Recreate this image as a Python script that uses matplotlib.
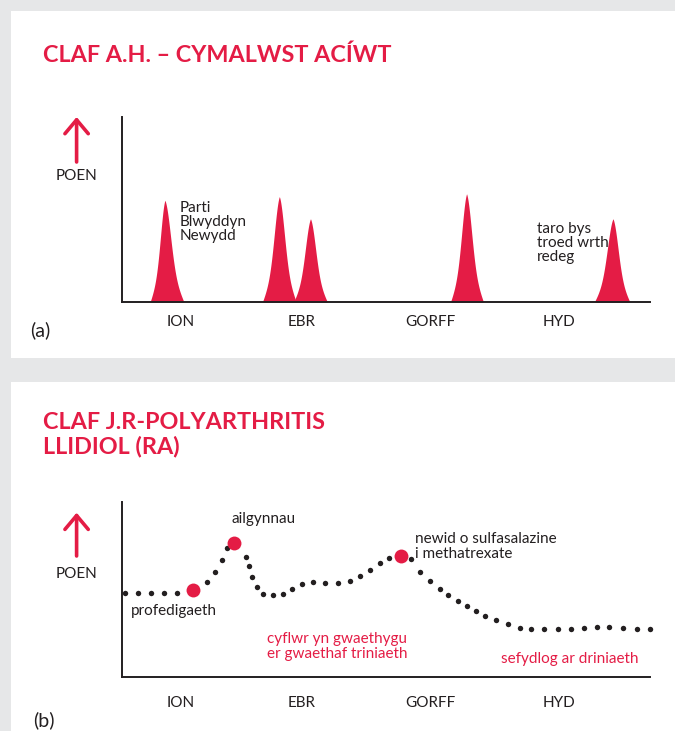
import numpy as np
import matplotlib
matplotlib.use('Agg')
import matplotlib.pyplot as plt
from matplotlib.patches import Rectangle, FancyArrowPatch

plt.rcParams['font.family'] = ['Lato', 'DejaVu Sans']

RED = '#e41c45'
INK = '#231f20'
GREY = '#e6e7e8'
W, H = 675, 731

# months along the time axis (x in months from the y axis)
month_labels = ['ION', 'EBR', 'GORFF', 'HYD']
month_pos = [1.40, 4.26, 7.33, 10.38]

# (a) acute gout flares: centre, height, base width left / right
flare_centre = [1.02, 3.74, 4.48, 8.19, 11.67]
flare_height = [5.5, 5.7, 4.5, 5.85, 4.5]
flare_left = [0.35, 0.40, 0.40, 0.38, 0.44]
flare_right = [0.45, 0.40, 0.40, 0.40, 0.40]

# (b) rheumatoid arthritis pain over the year
ra_x = [0.07, 0.38, 0.68, 0.99, 1.30, 2.02, 2.21, 2.37, 2.49, 2.94,
        3.01, 3.10, 3.21, 3.36, 3.59, 3.82, 4.04, 4.28, 4.55, 4.83,
        5.13, 5.41, 5.65, 5.89, 6.13, 6.34, 6.86, 7.08, 7.31, 7.55,
        7.75, 7.98, 8.19, 8.41, 8.64, 8.88, 9.17, 9.45, 9.73, 10.04,
        10.37, 10.68, 10.98, 11.28, 11.58, 11.90, 12.23, 12.54]
ra_y = [4.78, 4.78, 4.78, 4.78, 4.78, 5.45, 6.02, 6.69, 7.35, 6.84,
        6.34, 5.73, 5.16, 4.76, 4.67, 4.76, 5.05, 5.31, 5.43, 5.39,
        5.37, 5.47, 5.77, 6.11, 6.51, 6.78, 6.73, 6.02, 5.50, 5.01,
        4.67, 4.36, 4.06, 3.75, 3.49, 3.26, 3.01, 2.82, 2.73, 2.73,
        2.74, 2.76, 2.78, 2.84, 2.87, 2.82, 2.73, 2.73]
event_x = [1.68, 2.67, 6.64]
event_y = [4.97, 7.67, 6.91]


def fig_xy(x, y):
    return x / W, 1 - y / H


def flare_shape(t):
    # spike with a flared base, t runs 0 (peak) .. 1 (base)
    return 0.58 * np.exp(-(t / 0.42) ** 2) + 0.42 * (1 - t)


def setup_axes(ax, pad):
    ax.set_xlim(0, 12.55)
    ax.set_ylim(0, 10)
    for side in ['top', 'right']:
        ax.spines[side].set_visible(False)
    for side in ['left', 'bottom']:
        ax.spines[side].set_color(INK)
        ax.spines[side].set_linewidth(1.4)
    ax.set_xticks(month_pos, month_labels)
    ax.set_yticks([])
    ax.tick_params(axis='x', length=0, pad=pad, labelsize=11, colors=INK)
    ax.patch.set_alpha(0)
    ax.set_zorder(2)


def side_labels(y_arrow_top, y_arrow_bottom, y_poen, tag, y_tag, x_tag):
    arrow = FancyArrowPatch(fig_xy(76.6, y_arrow_bottom), fig_xy(76.6, y_arrow_top),
                            transform=fig.transFigure, arrowstyle='->,head_length=0.5,head_width=0.42',
                            mutation_scale=20, color=RED, lw=2.6, shrinkA=0, shrinkB=0)
    fig.add_artist(arrow)
    fig.text(*fig_xy(76.5, y_poen), 'POEN', ha='center', va='center', fontsize=11, color=INK)
    fig.text(*fig_xy(x_tag, y_tag), tag, ha='center', va='center', fontsize=14, color=INK)


fig = plt.figure(figsize=(W / 100, H / 100), dpi=100, facecolor=GREY)

# white panels
for y0, y1 in [(10.7, 358.3), (381.7, 731)]:
    fig.patches.append(Rectangle((10.8 / W, 1 - y1 / H), 1 - 10.8 / W, (y1 - y0) / H,
                                 transform=fig.transFigure, facecolor='white', edgecolor='none', zorder=-5))

# (a) acute gout
ax1 = fig.add_axes([122 / W, 1 - 302 / H, (650 - 122) / W, (302 - 117) / H])
setup_axes(ax1, pad=9)
for c, h, wl, wr in zip(flare_centre, flare_height, flare_left, flare_right):
    xs = np.linspace(c - wl, c + wr, 200)
    t = np.where(xs < c, (c - xs) / wl, (xs - c) / wr)
    ax1.fill_between(xs, 0, h * flare_shape(t), color=RED, lw=0)
ax1.text(1.38, 4.32, 'Parti\nBlwyddyn\nNewydd', ha='left', va='center', fontsize=11,
         color=INK, linespacing=1.0)
ax1.text(9.86, 3.19, 'taro bys\ntroed wrth\nredeg', ha='left', va='center', fontsize=11,
         color=INK, linespacing=1.0)

fig.text(*fig_xy(43, 55), 'CLAF A.H. – CYMALWST ACÍWT', ha='left', va='center',
         fontsize=16.8, fontweight='bold', color=RED)
side_labels(117, 162, 176, '(a)', 330, 40)

# (b) rheumatoid arthritis
ax2 = fig.add_axes([122 / W, 1 - 677 / H, (650 - 122) / W, (677 - 502) / H])
setup_axes(ax2, pad=14)
ax2.plot(ra_x, ra_y, 'o', color=INK, markersize=3.9, markeredgewidth=0, clip_on=False)
ax2.plot(event_x, event_y, 'o', color=RED, markersize=10, markeredgewidth=0, clip_on=False)
ax2.text(0.22, 3.79, 'profedigaeth', ha='left', va='center', fontsize=11, color=INK)
ax2.text(2.60, 9.03, 'ailgynnau', ha='left', va='center', fontsize=11, color=INK)
ax2.text(6.96, 7.45, 'newid o sulfasalazine\ni methatrexate', ha='left', va='center',
         fontsize=11, color=INK, linespacing=1.05)
ax2.text(5.12, 1.74, 'cyflwr yn gwaethygu\ner gwaethaf triniaeth', ha='center', va='center',
         multialignment='center', fontsize=11, color=RED, linespacing=1.05)
ax2.text(9.01, 1.03, 'sefydlog ar driniaeth', ha='left', va='center', fontsize=11, color=RED)

fig.text(*fig_xy(43, 434.5), 'CLAF J.R-POLYARTHRITIS\nLLIDIOL (RA)', ha='left', va='center',
         fontsize=16.8, fontweight='bold', color=RED, linespacing=1.12)
side_labels(512.7, 556, 573.5, '(b)', 720, 44)

fig.savefig('out.png', dpi=100, facecolor=GREY)
